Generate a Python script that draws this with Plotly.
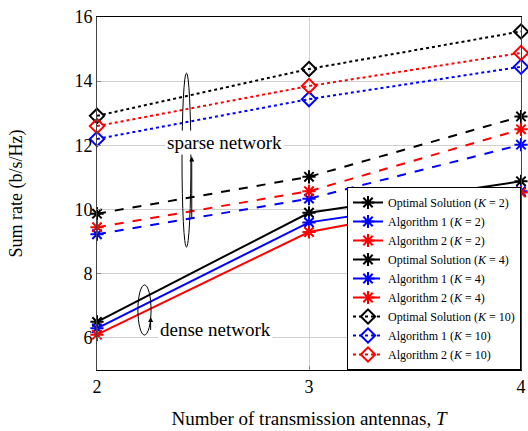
import plotly.graph_objects as go

T = [2, 3, 4]

opt_k2 = [6.5, 9.9, 10.88]
alg1_k2 = [6.3, 9.6, 10.57]
alg2_k2 = [6.1, 9.3, 10.53]

opt_k4 = [9.87, 11.02, 12.9]
alg1_k4 = [9.23, 10.34, 12.02]
alg2_k4 = [9.45, 10.57, 12.5]

opt_k10 = [12.92, 14.38, 15.55]
alg1_k10 = [12.2, 13.44, 14.45]
alg2_k10 = [12.6, 13.85, 14.88]

names = ["Optimal Solution", "Algorithm 1", "Algorithm 2"]
colors = ["black", "blue", "red"]

series = [
    (2, [opt_k2, alg1_k2, alg2_k2], "solid", "asterisk-open"),
    (4, [opt_k4, alg1_k4, alg2_k4], "dash", "asterisk-open"),
    (10, [opt_k10, alg1_k10, alg2_k10], "dot", "diamond-open"),
]

FONT = "Liberation Serif"

fig = go.Figure()
for K, ys, dash, sym in series:
    for name, col, y in zip(names, colors, ys):
        fig.add_trace(go.Scatter(
            x=T, y=y, mode="lines+markers",
            name=f"{name} (<i>K</i> = {K})",
            line=dict(color=col, width=2, dash=dash),
            marker=dict(symbol=sym, size=11, color=col,
                        line=dict(color=col, width=2)),
            cliponaxis=False,
        ))

# ellipses with arrows
fig.add_shape(type="circle", xref="x", yref="y",
              x0=2.401, x1=2.443, y0=8.83, y1=14.25,
              line=dict(color="black", width=1))
fig.add_shape(type="circle", xref="x", yref="y",
              x0=2.193, x1=2.255, y0=6.09, y1=7.65,
              line=dict(color="black", width=1))
fig.add_annotation(x=2.447, y=11.65, ax=2.447, ay=9.7, xref="x", yref="y",
                   axref="x", ayref="y", text="", showarrow=True,
                   arrowhead=2, arrowsize=1, arrowwidth=1, arrowcolor="black")
fig.add_annotation(x=2.253, y=6.65, ax=2.253, ay=6.2, xref="x", yref="y",
                   axref="x", ayref="y", text="", showarrow=True,
                   arrowhead=2, arrowsize=1, arrowwidth=1, arrowcolor="black")

fig.add_annotation(x=2.6, y=12.1, xref="x", yref="y", text="sparse network",
                   showarrow=False, bgcolor="white",
                   font=dict(family=FONT, size=19, color="black"))
fig.add_annotation(x=2.56, y=6.27, xref="x", yref="y", text="dense network",
                   showarrow=False, bgcolor="white",
                   font=dict(family=FONT, size=19, color="black"))

fig.update_layout(
    width=528, height=431,
    margin=dict(l=97, r=7, t=17, b=61, autoexpand=False),
    plot_bgcolor="white", paper_bgcolor="white",
    font=dict(family=FONT, size=18, color="black"),
    showlegend=True,
    legend=dict(x=1.0, y=0.0, xanchor="right", yanchor="bottom",
                bgcolor="white", bordercolor="black", borderwidth=1,
                font=dict(family=FONT, size=12, color="black"),
                tracegroupgap=0, itemwidth=30),
    xaxis=dict(range=[2, 4], tickvals=T, ticktext=["2", "3", "4"],
               automargin=False,
               showgrid=True, gridcolor="#d0d0d0", gridwidth=1,
               showline=True, linecolor="black", linewidth=1, mirror=True,
               ticks="inside", ticklen=4, tickcolor="#888",
               zeroline=False, tickfont=dict(family=FONT, size=18),
               title=dict(text="Number of transmission antennas, <i>T</i>",
                          font=dict(family=FONT, size=19), standoff=16)),
    yaxis=dict(range=[5, 16], tickvals=[6, 8, 10, 12, 14, 16],
               automargin=False,
               showgrid=True, gridcolor="#d0d0d0", gridwidth=1,
               showline=True, linecolor="#444", linewidth=1, mirror=True,
               ticks="inside", ticklen=4, tickcolor="#888",
               zeroline=False, tickfont=dict(family=FONT, size=18),
               title=dict(text="Sum rate (b/s/Hz)",
                          font=dict(family=FONT, size=18), standoff=47)),
)

fig.write_html("out.html")
